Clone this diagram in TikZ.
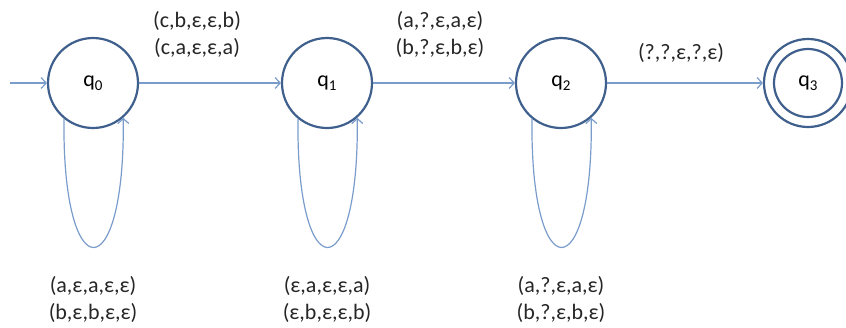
\documentclass[tikz,border=0pt]{standalone}
\usepackage{fontspec}
\setmainfont{Carlito}
\usetikzlibrary{arrows.meta}
\definecolor{statecol}{HTML}{3F5F8C}
\definecolor{edgecol}{HTML}{7A9CCB}
\newcommand{\qsub}[1]{q{\fontsize{15}{15}\selectfont\raisebox{-4pt}{#1}}}
\tikzset{
  state/.style={circle, draw=statecol, line width=2.2pt, minimum size=90pt, inner sep=0pt, font=\fontsize{22}{24}\selectfont},
  edge/.style={draw=edgecol, line width=1.2pt, -{Straight Barb[length=5pt,width=11pt]}},
  lbl/.style={font=\fontsize{22}{27}\selectfont, align=center, text=black!85}
}
\begin{document}
\begin{tikzpicture}[x=1pt,y=-1pt]
\useasboundingbox (0,0) rectangle (846,327);
\node[state] (q0) at (93,83) {\qsub{0}};
\node[state] (q1) at (327,83) {\qsub{1}};
\node[state] (q2) at (561,83) {\qsub{2}};
\node[state, minimum size=88pt] (q3) at (808,83) {};
\node[state, minimum size=68pt] (q3i) at (808,83) {\qsub{3}};
\coordinate (start) at (10,83);
\draw[edge] (start) -- (q0);
\draw[edge] (q0) -- (q1);
\draw[edge] (q1) -- (q2);
\draw[edge] (q2) -- (q3);
\foreach \q in {q0,q1,q2}{
  \draw[edge] (\q.231) .. controls +(-2,172) and +(2,172) .. (\q.311);
}
\node[lbl] (l01) at (197,34) {(c,b,ε,ε,b)\\(c,a,ε,ε,a)};
\node[lbl] (l12) at (440,34) {(a,?,ε,a,ε)\\(b,?,ε,b,ε)};
\node[lbl] (l23) at (681,53) {(?,?,ε,?,ε)};
\node[lbl] (s0) at (93,299) {(a,ε,a,ε,ε)\\(b,ε,b,ε,ε)};
\node[lbl] (s1) at (327,299) {(ε,a,ε,ε,a)\\(ε,b,ε,ε,b)};
\node[lbl] (s2) at (561,299) {(a,?,ε,a,ε)\\(b,?,ε,b,ε)};
\end{tikzpicture}
\end{document}
